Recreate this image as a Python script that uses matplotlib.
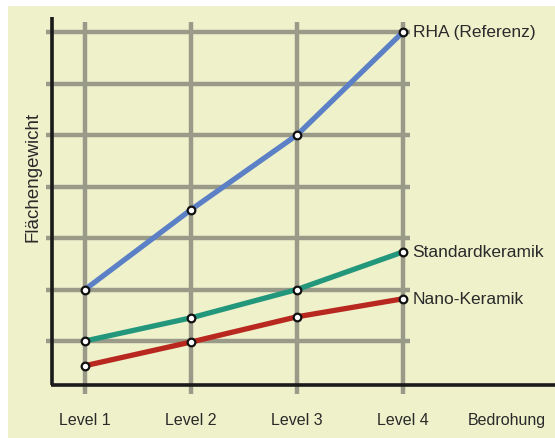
import matplotlib
matplotlib.use('Agg')
import matplotlib.pyplot as plt
from matplotlib.patches import Rectangle

plt.rcParams['font.family'] = ['Liberation Sans Narrow', 'Liberation Sans', 'DejaVu Sans']

# Daten (Flächengewicht in Rastereinheiten)
levels = [1, 2, 3, 4]
level_labels = ['Level 1', 'Level 2', 'Level 3', 'Level 4']
rha = [2.0, 3.55, 5.0, 7.0]
standard = [1.0, 1.45, 2.0, 2.73]
nano = [0.52, 0.98, 1.47, 1.82]
series_names = ['RHA (Referenz)', 'Standardkeramik', 'Nano-Keramik']
colors = ['#5b80c6', '#23977c', '#b8281f']
grid_rows = [1, 2, 3, 4, 5, 6, 7]

bg = '#eff1cb'
grid_c = '#9a9a88'

fig = plt.figure(figsize=(5.55, 4.39), dpi=100)
fig.patch.set_facecolor('white')
fig.patches.append(Rectangle((8 / 555, 0), 1, 432 / 439, transform=fig.transFigure,
                             facecolor=bg, edgecolor='none', zorder=-1))

ax = fig.add_axes([0, 0, 1, 1])
ax.set_zorder(1)
ax.set_facecolor('none')
# Pixel-Abbildung: x = 1 + (px-85)/106, y = (393.5-py)/51.5
ax.set_xlim(1 - 85 / 106, 1 + (555 - 85) / 106)
ax.set_ylim((393.5 - 439) / 51.5, 393.5 / 51.5)
ax.axis('off')

# Raster
ax.hlines(grid_rows, 0.63, 4.07, color=grid_c, linewidth=3.2, zorder=1)
ax.vlines(levels, -0.03, 7.2, color=grid_c, linewidth=3.2, zorder=1)

# Achsen
ax.plot([0.69, 0.69], [0.14, 7.3], color='#1a1a1a', linewidth=2.6, zorder=2,
        solid_capstyle='butt')
ax.plot([0.675, 5.5], [0.14, 0.14], color='#1a1a1a', linewidth=2.6, zorder=2,
        solid_capstyle='butt')

for vals, c, name in zip([rha, standard, nano], colors, series_names):
    ax.plot(levels, vals, color=c, linewidth=3.8, zorder=3, solid_capstyle='round')
    ax.plot(levels, vals, 'o', markersize=5.5, markerfacecolor='white',
            markeredgecolor='#111111', markeredgewidth=1.6, zorder=4)
    ax.text(4.09, vals[-1], name, fontsize=12.5, color='#2a2a2a',
            ha='left', va='center', zorder=5)

for lv, lab in zip(levels, level_labels):
    ax.text(lv, -0.52, lab, fontsize=11.5, color='#2a2a2a', ha='center', va='center')
ax.text(4.98, -0.52, 'Bedrohung', fontsize=11.5, color='#2a2a2a', ha='center', va='center')

ax.text(0.51, 4.2, 'Flächengewicht', fontsize=13.5, color='#2a2a2a', rotation=90,
        ha='center', va='center')

plt.savefig('out.png', dpi=100)
plt.close()
